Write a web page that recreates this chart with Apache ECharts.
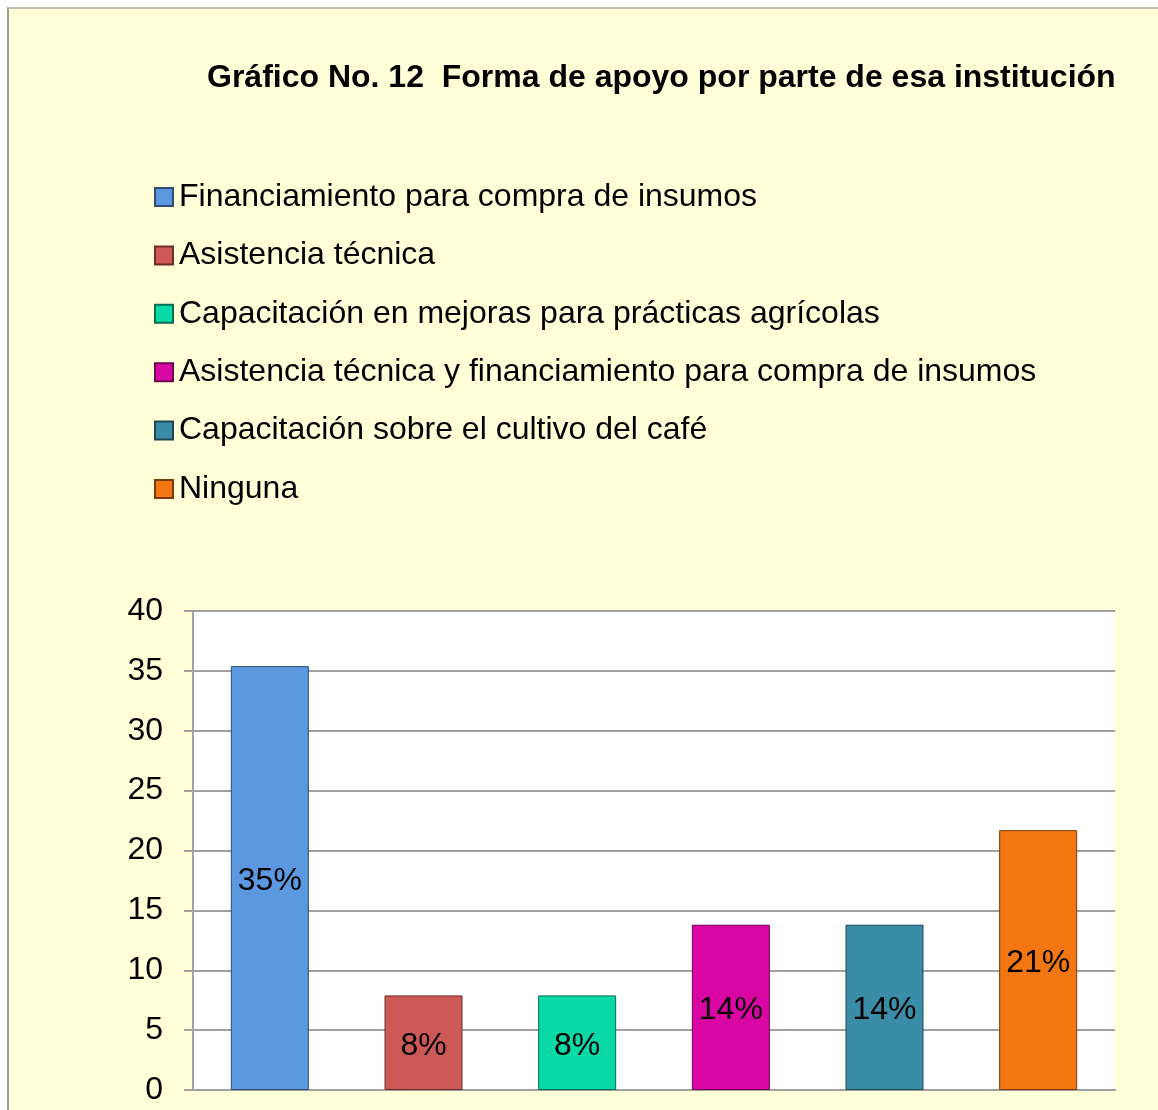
<!DOCTYPE html>
<html>
<head>
<meta charset="utf-8">
<script src="https://cdn.jsdelivr.net/npm/echarts@6/dist/echarts.min.js"></script>
<style>
    html, body { margin: 0; padding: 0; background: #ffffff; }
    #frame {
        position: absolute; left: 7px; top: 7px; width: 1200px; height: 1200px;
        background: #ffffd8; border-top: 2px solid #bdbdb0; border-left: 2px solid #9c9c90;
    }
    #main { position: absolute; left: 0; top: 0; width: 1158px; height: 1110px; }
</style>
</head>
<body>
<div id="frame"></div>
<div id="main"></div>
<script>
var categories = ['Financiamiento para compra de insumos', 'Asistencia técnica',
    'Capacitación en mejoras para prácticas agrícolas',
    'Asistencia técnica y financiamiento para compra de insumos',
    'Capacitación sobre el cultivo del café', 'Ninguna'];
var values = [35.4, 7.9, 7.9, 13.8, 13.8, 21.7];
var labels = ['35%', '8%', '8%', '14%', '14%', '21%'];
var colors = ['#5b98e0', '#cd5956', '#08d9a7', '#da06a3', '#3a8da6', '#f27611'];
var borders = ['#2d4c70', '#6e2c2b', '#046c54', '#6d0352', '#1d4753', '#7a3b08'];

var font = '"Liberation Sans", Arial, sans-serif';

/* una serie por categoria, apiladas para que cada barra quede centrada */
var series = categories.map(function (name, i) {
    var d = values.map(function (v, j) { return j === i ? v : null; });
    return {
        name: name,
        type: 'bar',
        stack: 'total',
        barWidth: 78,
        itemStyle: { color: colors[i], borderColor: borders[i], borderWidth: 1 },
        label: {
            show: true,
            position: 'inside',
            fontFamily: font,
            fontSize: 32,
            color: '#000',
            offset: [0, 3],
            formatter: function () { return labels[i]; }
        },
        data: d
    };
});

var myChart = echarts.init(document.getElementById('main'));
var option = {
    animation: false,
    title: {
        text: 'Gráfico No. 12  Forma de apoyo por parte de esa institución',
        left: 202,
        top: 57,
        textStyle: { fontFamily: font, fontSize: 32, fontWeight: 'bold', color: '#000' }
    },
    legend: {
        orient: 'vertical',
        left: 149,
        top: 176,
        itemWidth: 18,
        itemHeight: 18,
        itemGap: 26.4,
        icon: 'rect',
        textStyle: { fontFamily: font, fontSize: 32, color: '#000', padding: [0, 0, 0, 1] },
        data: categories
    },
    grid: {
        left: 193,
        top: 611,
        right: 43,
        bottom: 20,
        show: true,
        backgroundColor: '#ffffff',
        borderWidth: 0
    },
    xAxis: {
        type: 'category',
        data: categories,
        axisLine: { lineStyle: { color: '#a0a0a0', width: 2 } },
        axisTick: { show: false },
        axisLabel: { show: false }
    },
    yAxis: {
        type: 'value',
        min: 0,
        max: 40,
        interval: 5,
        axisLine: { show: true, lineStyle: { color: '#a0a0a0', width: 2 } },
        axisTick: { show: true, length: 9, lineStyle: { color: '#a0a0a0', width: 2 } },
        axisLabel: { fontFamily: font, fontSize: 32, color: '#000', margin: 30 },
        splitLine: { lineStyle: { color: '#a0a0a0', width: 2 } }
    },
    series: series
};
myChart.setOption(option);
</script>
</body>
</html>
